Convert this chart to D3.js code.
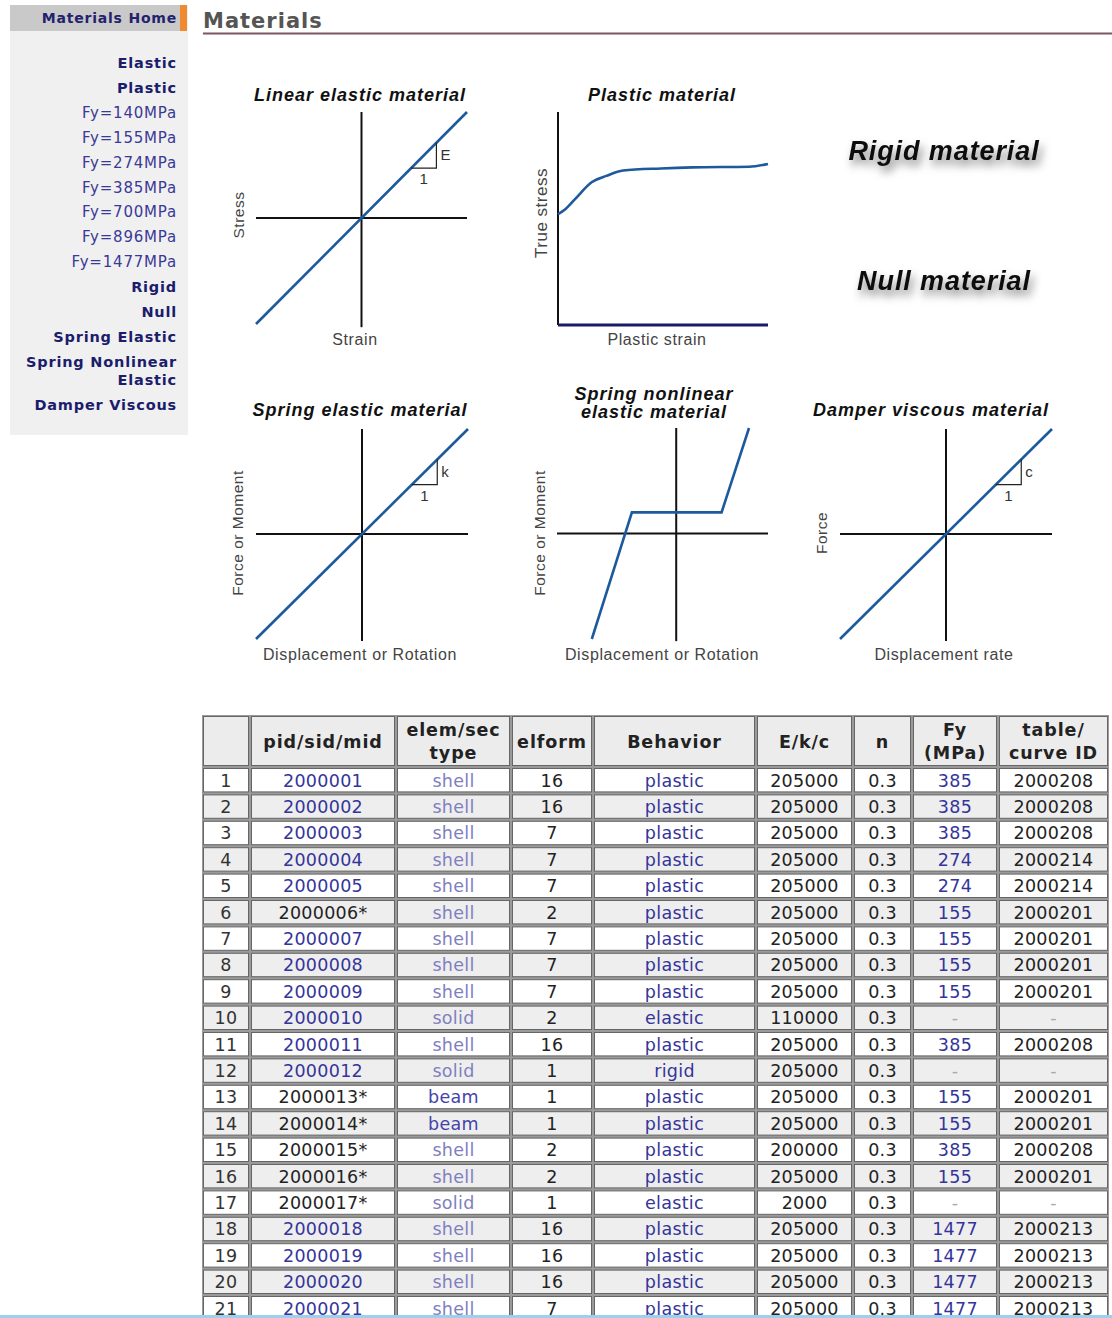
<!DOCTYPE html>
<html>
<head>
<meta charset="utf-8">
<script src="https://cdn.jsdelivr.net/npm/d3@7"></script>
<style>
  body { margin: 0; background: #fff; }
  svg { display: block; }
</style>
</head>
<body>
<script>
// sidebar menu
var menuItems = ['Elastic', 'Plastic', 'Fy=140MPa', 'Fy=155MPa', 'Fy=274MPa', 'Fy=385MPa',
  'Fy=700MPa', 'Fy=896MPa', 'Fy=1477MPa', 'Rigid', 'Null', 'Spring Elastic',
  'Spring Nonlinear|Elastic', 'Damper Viscous'];

// diagram curves, in each panel's own units
var unitLine = [[-1, -1], [1, 1]];
var slopeTri = [[0.47, 0.47], [0.71, 0.47], [0.71, 0.71]];
var plasticCurve = [[0, 0.52], [0.03, 0.54], [0.08, 0.59], [0.16, 0.67], [0.23, 0.70],
  [0.31, 0.725], [0.49, 0.735], [0.64, 0.74], [0.91, 0.743], [1, 0.756]];
var nonlinearCurve = [[-0.8, -1], [-0.42, 0.2], [0.43, 0.2], [0.69, 1]];

// table
var headers = [[''], ['pid/sid/mid'], ['elem/sec', 'type'], ['elform'], ['Behavior'],
  ['E/k/c'], ['n'], ['Fy', '(MPa)'], ['table/', 'curve ID']];
var pids = ['2000001', '2000002', '2000003', '2000004', '2000005', '2000006*', '2000007',
  '2000008', '2000009', '2000010', '2000011', '2000012', '2000013*', '2000014*', '2000015*',
  '2000016*', '2000017*', '2000018', '2000019', '2000020', '2000021'];
var elemTypes = ['shell', 'shell', 'shell', 'shell', 'shell', 'shell', 'shell', 'shell', 'shell',
  'solid', 'shell', 'solid', 'beam', 'beam', 'shell', 'shell', 'solid', 'shell', 'shell', 'shell', 'shell'];
var elforms = [16, 16, 7, 7, 7, 2, 7, 7, 7, 2, 16, 1, 1, 1, 2, 2, 1, 16, 16, 16, 7];
var behaviors = ['plastic', 'plastic', 'plastic', 'plastic', 'plastic', 'plastic', 'plastic',
  'plastic', 'plastic', 'elastic', 'plastic', 'rigid', 'plastic', 'plastic', 'plastic', 'plastic',
  'elastic', 'plastic', 'plastic', 'plastic', 'plastic'];
var moduli = [205000, 205000, 205000, 205000, 205000, 205000, 205000, 205000, 205000, 110000,
  205000, 205000, 205000, 205000, 200000, 205000, 2000, 205000, 205000, 205000, 205000];
var nus = [0.3, 0.3, 0.3, 0.3, 0.3, 0.3, 0.3, 0.3, 0.3, 0.3, 0.3, 0.3, 0.3, 0.3, 0.3, 0.3, 0.3, 0.3, 0.3, 0.3, 0.3];
var fys = [385, 385, 385, 274, 274, 155, 155, 155, 155, null, 385, null, 155, 155, 385, 155, null,
  1477, 1477, 1477, 1477];
var curveIds = ['2000208', '2000208', '2000208', '2000214', '2000214', '2000201', '2000201',
  '2000201', '2000201', null, '2000208', null, '2000201', '2000201', '2000208', '2000201', null,
  '2000213', '2000213', '2000213', '2000213'];

var width = 1112, height = 1318;

var svg = d3.select('body').append('svg')
  .attr('width', width)
  .attr('height', height);

svg.append('rect').attr('width', width).attr('height', height).attr('fill', '#fff');

var defs = svg.append('defs');
var shadow = defs.append('filter').attr('id', 'shadow')
  .attr('x', '-20%').attr('y', '-40%').attr('width', '140%').attr('height', '200%');
shadow.append('feDropShadow')
  .attr('dx', 3).attr('dy', 6).attr('stdDeviation', 4)
  .attr('flood-color', '#000').attr('flood-opacity', 0.5);

// ---- sidebar
var side = svg.append('g');
side.append('rect').attr('x', 10).attr('y', 5).attr('width', 178).attr('height', 430).attr('fill', '#f0f0f0');
side.append('rect').attr('x', 10).attr('y', 5).attr('width', 170).attr('height', 26).attr('fill', '#c9c9c9');
side.append('rect').attr('x', 180).attr('y', 5).attr('width', 7).attr('height', 26).attr('fill', '#f08a30');
side.append('text')
  .attr('x', 177).attr('y', 23)
  .attr('text-anchor', 'end')
  .style('font', 'bold 14px "DejaVu Sans"')
  .style('letter-spacing', '0.8px')
  .attr('fill', '#22226e')
  .text('Materials Home');

var menuY = 68;
menuItems.forEach(function(label) {
  var lines = label.split('|');
  var isFy = label.indexOf('Fy=') === 0;
  lines.forEach(function(line, i) {
    side.append('text')
      .attr('x', 177).attr('y', menuY + i * 18)
      .attr('text-anchor', 'end')
      .style('font', (isFy ? 'normal 15px' : 'bold 14.5px') + ' "DejaVu Sans"')
      .style('letter-spacing', isFy ? '0.8px' : '0.8px')
      .attr('fill', isFy ? '#3a3a96' : '#1c1c6c')
      .text(line);
  });
  menuY += 24.9 + (lines.length - 1) * 18;
});

// ---- heading
svg.append('text')
  .attr('x', 203).attr('y', 28)
  .style('font', 'bold 21px "DejaVu Sans"')
  .style('letter-spacing', '1px')
  .attr('fill', '#555')
  .text('Materials');
svg.append('line')
  .attr('x1', 203).attr('x2', width).attr('y1', 33.5).attr('y2', 33.5)
  .attr('stroke', '#7a5464').attr('stroke-width', 2);

// ---- diagrams
var blue = '#1d5a9c';

function panel(cfg) {
  var g = svg.append('g');
  var x = d3.scaleLinear().domain(cfg.xd).range(cfg.xr);
  var y = d3.scaleLinear().domain(cfg.yd).range(cfg.yr);
  var line = d3.line().x(function(d) { return x(d[0]); }).y(function(d) { return y(d[1]); });

  // axes
  cfg.axes.forEach(function(a) {
    g.append('path')
      .attr('d', line(a.pts))
      .attr('stroke', a.color || '#111')
      .attr('stroke-width', a.w || 2)
      .attr('fill', 'none');
  });

  // curve
  g.append('path')
    .attr('d', line.curve(cfg.smooth ? d3.curveMonotoneX : d3.curveLinear)(cfg.curve))
    .attr('stroke', blue).attr('stroke-width', 2.6)
    .attr('fill', 'none');
  line.curve(d3.curveLinear);

  if (cfg.slope) {
    g.append('path')
      .attr('d', line(slopeTri))
      .attr('stroke', '#222').attr('stroke-width', 1.2).attr('fill', 'none');
    g.append('text')
      .attr('x', x(0.71) + 4).attr('y', y(0.59) + 5)
      .style('font', '15px "Liberation Sans"').attr('fill', '#333')
      .text(cfg.slope);
    g.append('text')
      .attr('x', x(0.59)).attr('y', y(0.47) + 16)
      .attr('text-anchor', 'middle')
      .style('font', '15px "Liberation Sans"').attr('fill', '#333')
      .text('1');
  }

  cfg.title.forEach(function(t, i) {
    g.append('text')
      .attr('x', cfg.tx).attr('y', cfg.ty + i * 18)
      .attr('text-anchor', 'middle')
      .style('font', 'italic bold 18px "Liberation Sans"')
      .style('letter-spacing', '1px')
      .attr('fill', '#111')
      .text(t);
  });

  g.append('text')
    .attr('x', cfg.xl[0]).attr('y', cfg.xl[1])
    .attr('text-anchor', 'middle')
    .style('font', '16px "Liberation Sans"').style('letter-spacing', '0.6px').attr('fill', '#444')
    .text(cfg.xlabel);

  g.append('text')
    .attr('transform', 'translate(' + cfg.yl[0] + ',' + cfg.yl[1] + ') rotate(-90)')
    .attr('text-anchor', 'middle').attr('dy', '0.35em')
    .style('font', (cfg.ysize || 15.5) + 'px "Liberation Sans"').style('letter-spacing', '0.5px').attr('fill', '#444')
    .text(cfg.ylabel);
}

function cross(xl, xh, yl, yh) {
  return [{pts: [[xl, 0], [xh, 0]]}, {pts: [[0, yl], [0, yh]]}];
}

panel({
  xd: [-1, 1], xr: [256, 467], yd: [-1, 1], yr: [324, 112],
  axes: cross(-1, 1, -1.03, 1), curve: unitLine, slope: 'E',
  title: ['Linear elastic material'], tx: 360, ty: 101,
  xlabel: 'Strain', xl: [355, 345], ylabel: 'Stress', yl: [239, 215]
});

panel({
  xd: [0, 1], xr: [558, 768], yd: [0, 1], yr: [325, 112],
  axes: [{pts: [[0, 0], [0, 1]]}, {pts: [[0, 0], [1, 0]], color: '#1a1a66', w: 3}],
  curve: plasticCurve, smooth: true,
  title: ['Plastic material'], tx: 662, ty: 101,
  xlabel: 'Plastic strain', xl: [657, 345], ylabel: 'True stress', yl: [541, 213], ysize: 17
});

panel({
  xd: [-1, 1], xr: [256, 468], yd: [-1, 1], yr: [639, 429],
  axes: cross(-1, 1, -1.02, 1), curve: unitLine, slope: 'k',
  title: ['Spring elastic material'], tx: 360, ty: 416,
  xlabel: 'Displacement or Rotation', xl: [360, 660], ylabel: 'Force or Moment', yl: [238, 533]
});

panel({
  xd: [-1.13, 0.87], xr: [557, 768], yd: [-1, 1], yr: [639, 428],
  axes: cross(-1.13, 0.87, -1.02, 1), curve: nonlinearCurve,
  title: ['Spring nonlinear', 'elastic material'], tx: 654, ty: 400,
  xlabel: 'Displacement or Rotation', xl: [662, 660], ylabel: 'Force or Moment', yl: [540, 533]
});

panel({
  xd: [-1, 1], xr: [840, 1052], yd: [-1, 1], yr: [639, 429],
  axes: cross(-1, 1, -1.02, 1), curve: unitLine, slope: 'c',
  title: ['Damper viscous material'], tx: 931, ty: 416,
  xlabel: 'Displacement rate', xl: [944, 660], ylabel: 'Force', yl: [822, 533]
});

// rigid and null labels
[['Rigid material', 160], ['Null material', 290]].forEach(function(d) {
  svg.append('text')
    .attr('x', 944).attr('y', d[1])
    .attr('text-anchor', 'middle')
    .attr('filter', 'url(#shadow)')
    .style('font', 'italic bold 27px "Liberation Sans"')
    .style('letter-spacing', '0.9px')
    .attr('fill', '#111')
    .text(d[0]);
});

// ---- table
var colEdges = [202, 250, 396, 511, 593, 756, 853, 912, 998, 1109];
var headTop = 715, headBottom = 767, rowH = 26.4;

var rowScale = d3.scaleBand()
  .domain(d3.range(pids.length))
  .range([headBottom, headBottom + pids.length * rowH]);

var colScale = d3.scaleOrdinal().domain(d3.range(headers.length)).range(colEdges.slice(0, -1));
function colW(i) { return colEdges[i + 1] - colEdges[i]; }
function colMid(i) { return colScale(i) + colW(i) / 2; }

var table = svg.append('g');
table.append('rect')
  .attr('x', colEdges[0]).attr('y', headTop)
  .attr('width', colEdges[colEdges.length - 1] - colEdges[0])
  .attr('height', headBottom + pids.length * rowH - headTop)
  .attr('fill', '#9a9a9a');

function cell(x, y, w, h, fill) {
  table.append('rect')
    .attr('x', x + 1.5).attr('y', y + 1.5)
    .attr('width', w - 3).attr('height', h - 3)
    .attr('fill', fill).attr('stroke', '#666').attr('stroke-width', 1);
}

headers.forEach(function(h, i) {
  cell(colScale(i), headTop, colW(i), headBottom - headTop, '#ececec');
  h.forEach(function(t, j) {
    table.append('text')
      .attr('x', colMid(i))
      .attr('y', h.length === 1 ? 748 : 736 + j * 23)
      .attr('text-anchor', 'middle')
      .style('font', 'bold 17.5px "DejaVu Sans"')
      .style('letter-spacing', '0.9px')
      .attr('fill', '#222')
      .text(t);
  });
});

var linkBlue = '#34349a', paleBlue = '#8080bf', ink = '#222', dash = '#aaa';

pids.forEach(function(pid, r) {
  var top = rowScale(r);
  var fill = r % 2 === 0 ? '#ffffff' : '#eeeeee';
  var starred = pid.indexOf('*') >= 0;
  var values = [
    [String(r + 1), '#333'],
    [pid, starred ? ink : linkBlue],
    [elemTypes[r], elemTypes[r] === 'beam' ? '#4444aa' : paleBlue],
    [String(elforms[r]), ink],
    [behaviors[r], linkBlue],
    [String(moduli[r]), ink],
    [String(nus[r]), ink],
    [fys[r] == null ? '-' : String(fys[r]), fys[r] == null ? dash : linkBlue],
    [curveIds[r] == null ? '-' : curveIds[r], curveIds[r] == null ? dash : ink]
  ];
  values.forEach(function(v, i) {
    cell(colScale(i), top, colW(i), rowScale.bandwidth(), fill);
    table.append('text')
      .attr('x', colMid(i)).attr('y', top + 19.5)
      .attr('text-anchor', 'middle')
      .style('font', '17.5px "DejaVu Sans"')
      .style('letter-spacing', '0.3px')
      .attr('fill', v[1])
      .text(v[0]);
  });
});

// bottom edge strip
svg.append('rect').attr('x', 0).attr('y', 1315).attr('width', width).attr('height', 3).attr('fill', '#9cd0ec');
</script>
</body>
</html>
